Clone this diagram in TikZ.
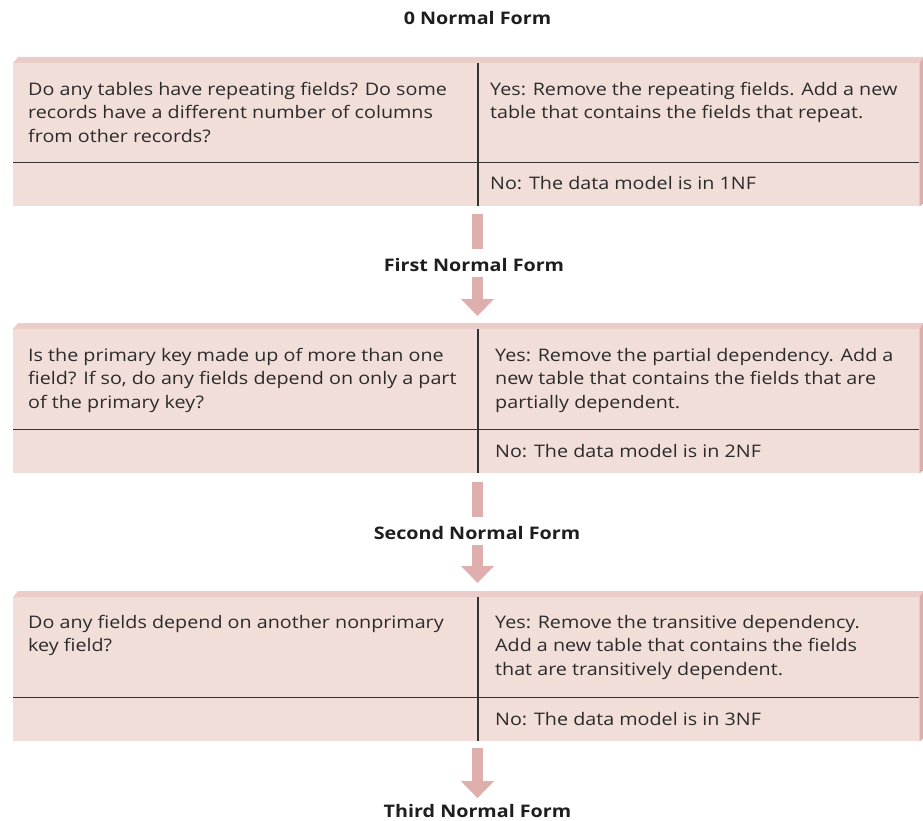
\documentclass[tikz,border=0pt]{standalone}
\usepackage{fontspec}
\setmainfont[FakeStretch=1.14]{Open Sans}
\usepackage{xcolor}
\definecolor{cFace}{HTML}{F2DED9}
\definecolor{cTop}{HTML}{EACDC8}
\definecolor{cSide}{HTML}{DEACAA}
\definecolor{cArrow}{HTML}{DFAFAD}
\definecolor{cRule}{HTML}{333333}
\definecolor{cText}{HTML}{2B2B2B}
\definecolor{cHead}{HTML}{1E1E1E}
\usepackage{tikz}
\usetikzlibrary{arrows.meta,calc}
\newcommand{\nfsize}{\fontsize{17.3}{23.5}\selectfont}
\tikzset{
  nf-face/.style={fill=cFace,anchor=north west,inner sep=0pt,
    minimum width=906pt},
  nf-text/.style={anchor=north west,align=left,inner sep=0pt,
    font=\nfsize,text=cText},
  nf-head/.style={inner sep=0pt,font=\nfsize\bfseries,text=cHead},
  nf-rule/.style={draw=cRule,line width=1.1pt},
  nf-shaft/.style={draw=cArrow,line width=10.5pt},
  nf-arrow/.style={draw=cArrow,line width=10.5pt,
    -{Triangle[width=32pt,length=17pt]}},
}

\begin{document}
\begin{tikzpicture}[x=1pt,y=-1pt]
  \useasboundingbox (0,0) rectangle (923,821);
  % the three question boxes
  \node[nf-face,minimum height=143pt] (b1) at (13,63)  {};
  \node[nf-face,minimum height=144pt] (b2) at (13,329) {};
  \node[nf-face,minimum height=144pt] (b3) at (13,597) {};
  \foreach \b in {b1,b2,b3} {
    % bevel on top and on the right
    \fill[cTop] (\b.north west) -- ++(5,-6) -- ([xshift=4pt,yshift=6pt]\b.north east)
      -- (\b.north east) -- cycle;
    \fill[cSide] (\b.north east) -- ++(4,-6) -- ([xshift=4pt,yshift=3pt]\b.south east)
      -- (\b.south east) -- cycle;
    % column and row rules
    \draw[nf-rule] ([xshift=465pt]\b.north west) -- ([xshift=465pt]\b.south west);
    \draw[nf-rule] ([yshift=44pt]\b.south west) -- ([yshift=44pt]\b.south east);
  }

  % headings
  \node[nf-head] (h0) at (477.5,18)  {0 Normal Form};
  \node[nf-head] (h1) at (474,265) {First Normal Form};
  \node[nf-head] (h2) at (477,533) {Second Normal Form};
  \node[nf-head] (h3) at (477.5,811) {Third Normal Form};

  % box texts
  \node[nf-text] (q1) at (28,82)  {Do any tables have repeating fields? Do some\\records have a different number of columns\\from other records?};
  \node[nf-text] (y1) at (490,82) {Yes: Remove the repeating fields. Add a new\\table that contains the fields that repeat.};
  \node[nf-text] (n1) at (490,176) {No: The data model is in 1NF};
  \node[nf-text] (q2) at (28,348)  {Is the primary key made up of more than one\\field? If so, do any fields depend on only a part\\of the primary key?};
  \node[nf-text] (y2) at (495,348) {Yes: Remove the partial dependency. Add a\\new table that contains the fields that are\\partially dependent.};
  \node[nf-text] (n2) at (495,444) {No: The data model is in 2NF};
  \node[nf-text] (q3) at (28,615)  {Do any fields depend on another nonprimary\\key field?};
  \node[nf-text] (y3) at (495,615) {Yes: Remove the transitive dependency.\\Add a new table that contains the fields\\that are transitively dependent.};
  \node[nf-text] (n3) at (495,712) {No: The data model is in 3NF};

  % arrows between the forms
  \draw[nf-shaft,shorten <=8pt,shorten >=9pt] (b1.south -| 477.5,0) -- (h1.north -| 477.5,0);
  \draw[nf-arrow,shorten <=5pt,shorten >=13pt] (h1.south -| 477.5,0) -- (b2.north -| 477.5,0);
  \draw[nf-shaft,shorten <=9pt,shorten >=9pt] (b2.south -| 477.5,0) -- (h2.north -| 477.5,0);
  \draw[nf-arrow,shorten <=5pt,shorten >=14pt] (h2.south -| 477.5,0) -- (b3.north -| 477.5,0);
  \draw[nf-arrow,shorten <=7pt,shorten >=6pt] (h3 |- b3.south) -- (h3.north);
\end{tikzpicture}
\end{document}
